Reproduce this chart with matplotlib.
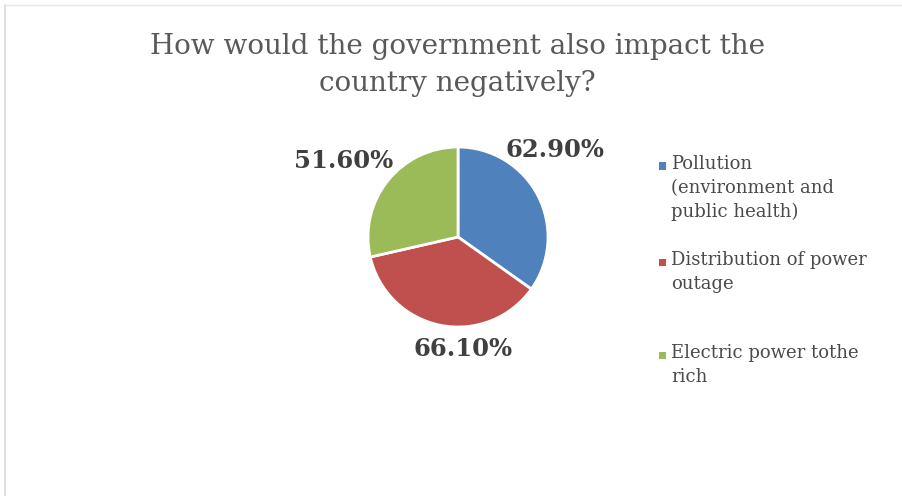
import matplotlib
matplotlib.use("Agg")
import matplotlib.pyplot as plt
from matplotlib.lines import Line2D
from matplotlib.patches import Rectangle

title = "How would the government also impact the\ncountry negatively?"
categories = [
    "Pollution\n(environment and\npublic health)",
    "Distribution of power\noutage",
    "Electric power tothe\nrich",
]
values = [62.9, 66.1, 51.6]
colors = ["#4F81BD", "#C0504D", "#9BBB59"]

W, H = 902, 496
fig = plt.figure(figsize=(W / 100, H / 100), dpi=100)
fig.patch.set_facecolor("white")

# faint frame on the left and top edges
fig.add_artist(Line2D([4.5 / W, 4.5 / W], [0.0, 1 - 5 / H], transform=fig.transFigure,
                      color="#d9d9d9", lw=1.2))
fig.add_artist(Line2D([4.5 / W, 1.0], [1 - 5 / H, 1 - 5 / H], transform=fig.transFigure,
                      color="#e8e8e8", lw=1.0))

fig.text(0.507, 1 - 65 / H, title, ha="center", va="center", fontsize=20,
         family="DejaVu Serif", color="#595959", linespacing=1.5)

# pie area: center ~ (458, 237) px, radius ~ 90 px
ax = fig.add_axes([(458 - 92) / W, 1 - (237 + 92) / H, 184 / W, 184 / H])
wedges, _ = ax.pie(values, colors=colors, startangle=90, counterclock=False,
                   radius=90 / 92,
                   wedgeprops=dict(edgecolor="white", linewidth=2))
ax.set_xlim(-1, 1)
ax.set_ylim(-1, 1)
ax.set_aspect("equal")
ax.axis("off")

# value labels placed outside each slice
label_pos = [(555, 150), (463, 349), (344, 161)]
for (px, py), v in zip(label_pos, values):
    fig.text(px / W, 1 - py / H, f"{v:.2f}%", ha="center", va="center",
             fontsize=17.5, fontweight="bold", family="DejaVu Serif",
             color="#404040")

# legend entries
legend_y = [166, 262, 355]
for lbl, c, y in zip(categories, colors, legend_y):
    fig.add_artist(Rectangle(((659) / W, 1 - (y + 3.5) / H), 7 / W, 7 / H,
                             transform=fig.transFigure, facecolor=c, edgecolor="none"))
    fig.text(671 / W, 1 - (y - 11) / H, lbl, ha="left", va="top",
             fontsize=13, family="DejaVu Serif", color="#4a4a4a",
             linespacing=1.42)

fig.savefig("out.png", dpi=100, facecolor="white")
